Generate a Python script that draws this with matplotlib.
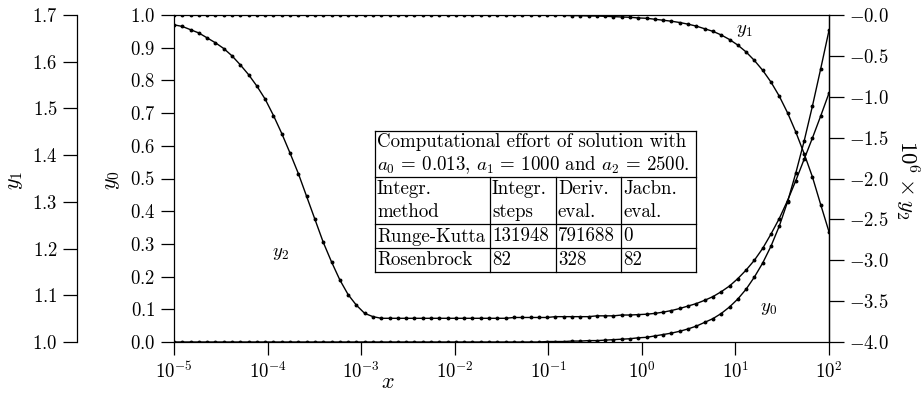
import numpy as np
import matplotlib
matplotlib.use("Agg")
import matplotlib.pyplot as plt
from matplotlib.ticker import NullLocator
from matplotlib.lines import Line2D

# sample grid of the integration output (log spaced, 80 points)
x = np.logspace(-5, 2, 80)

y0 = [1.000, 1.000, 1.000, 1.000, 1.000, 1.000, 1.000, 1.000, 1.000, 1.000,
      1.000, 1.000, 1.000, 1.000, 1.000, 1.000, 1.000, 1.000, 1.000, 1.000,
      1.000, 1.000, 1.000, 1.000, 1.000, 1.000, 1.000, 1.000, 1.000, 1.000,
      1.000, 1.000, 1.000, 1.000, 1.000, 1.000, 1.000, 1.000, 1.000, 1.000,
      1.000, 1.000, 1.000, 1.000, 1.000, 0.999, 0.999, 0.999, 0.998, 0.998,
      0.997, 0.997, 0.996, 0.995, 0.994, 0.993, 0.991, 0.990, 0.987, 0.984,
      0.981, 0.977, 0.972, 0.966, 0.958, 0.950, 0.939, 0.925, 0.908, 0.887,
      0.861, 0.831, 0.795, 0.752, 0.701, 0.642, 0.576, 0.505, 0.420, 0.337]

y1 = [1.000, 1.000, 1.000, 1.000, 1.000, 1.000, 1.000, 1.000, 1.000, 1.000,
      1.000, 1.000, 1.000, 1.000, 1.000, 1.000, 1.000, 1.000, 1.000, 1.000,
      1.000, 1.000, 1.000, 1.000, 1.000, 1.000, 1.000, 1.000, 1.000, 1.000,
      1.000, 1.000, 1.000, 1.000, 1.000, 1.000, 1.000, 1.000, 1.000, 1.000,
      1.000, 1.000, 1.000, 1.000, 1.000, 1.001, 1.001, 1.001, 1.002, 1.002,
      1.003, 1.003, 1.004, 1.005, 1.006, 1.007, 1.009, 1.010, 1.013, 1.016,
      1.019, 1.023, 1.028, 1.034, 1.042, 1.050, 1.061, 1.075, 1.092, 1.113,
      1.139, 1.169, 1.205, 1.248, 1.300, 1.362, 1.430, 1.505, 1.585, 1.667]

# 10^6 * y2
y2 = [-0.12, -0.14, -0.18, -0.22, -0.28, -0.34, -0.41, -0.50, -0.61, -0.73,
      -0.87, -1.03, -1.23, -1.45, -1.69, -1.94, -2.22, -2.50, -2.78, -3.02,
      -3.24, -3.42, -3.55, -3.65, -3.69, -3.71, -3.71, -3.71, -3.71, -3.71,
      -3.71, -3.71, -3.71, -3.71, -3.71, -3.71, -3.71, -3.71, -3.71, -3.71,
      -3.71, -3.70, -3.70, -3.70, -3.70, -3.70, -3.69, -3.69, -3.69, -3.69,
      -3.69, -3.68, -3.68, -3.68, -3.67, -3.67, -3.665, -3.66, -3.65, -3.635,
      -3.615, -3.59, -3.56, -3.53, -3.49, -3.445, -3.385, -3.315, -3.225, -3.12,
      -3.00, -2.855, -2.68, -2.49, -2.27, -2.025, -1.765, -1.505, -1.235, -0.955]

xticks = [1e-5, 1e-4, 1e-3, 1e-2, 1e-1, 1e0, 1e1, 1e2]
xtick_labels = [r"$10^{-5}$", r"$10^{-4}$", r"$10^{-3}$", r"$10^{-2}$",
                r"$10^{-1}$", r"$10^{0}$", r"$10^{1}$", r"$10^{2}$"]
y0_ticks = [0.0, 0.1, 0.2, 0.3, 0.4, 0.5, 0.6, 0.7, 0.8, 0.9, 1.0]
y1_ticks = [1.0, 1.1, 1.2, 1.3, 1.4, 1.5, 1.6, 1.7]
y2_ticks = [-4.0, -3.5, -3.0, -2.5, -2.0, -1.5, -1.0, -0.5, 0.0]
y2_labels = [r"$-4.0$", r"$-3.5$", r"$-3.0$", r"$-2.5$", r"$-2.0$",
             r"$-1.5$", r"$-1.0$", r"$-0.5$", r"$-0.0$"]

table_title = ["Computational effort of solution with",
               r"$a_0\,=\,0.013$, $a_1\,=\,1000$ and $a_2\,=\,2500$."]
table_head = [("Integr.", "method"), ("Integr.", "steps"),
              ("Deriv.", "eval."), ("Jacbn.", "eval.")]
table_rows = [("Runge-Kutta", "131948", "791688", "0"),
              ("Rosenbrock", "82", "328", "82")]

plt.rcParams["font.family"] = "serif"
plt.rcParams["font.serif"] = ["cmr10"]
plt.rcParams["mathtext.fontset"] = "cm"
plt.rcParams["axes.unicode_minus"] = False
plt.rcParams["axes.linewidth"] = 0.9

W, H = 924, 395
def fx(px):
    return px / W
def fy(py):
    return 1 - py / H

fig = plt.figure(figsize=(W / 100, H / 100), dpi=100)
ax = fig.add_axes([fx(174), fy(342), 655 / W, 327 / H])
ax.set_xscale("log")
ax.set_xlim(1e-5, 1e2)
ax.set_ylim(0, 1)
ax.plot(x, y0, "k-", lw=1.0, marker="o", ms=1.8)
ax.set_xticks(xticks)
ax.set_xticklabels(xtick_labels)
ax.xaxis.set_minor_locator(NullLocator())
ax.set_yticks(y0_ticks)
ax.set_yticklabels([r"$%.1f$" % v for v in y0_ticks])
ax.tick_params(direction="out", length=9.5, width=0.9, labelsize=13.5, pad=4)

par1 = ax.twinx()
par1.spines["left"].set_position(("outward", 97 * 0.72))
par1.spines["left"].set_visible(True)
for s in ["right", "top", "bottom"]:
    par1.spines[s].set_visible(False)
par1.yaxis.set_ticks_position("left")
par1.set_ylim(1.0, 1.7)
par1.plot(x, y1, "k-", lw=1.0, marker="o", ms=1.8)
par1.set_yticks(y1_ticks)
par1.set_yticklabels([r"$%.1f$" % v for v in y1_ticks])
par1.tick_params(direction="out", length=10, width=0.9, labelsize=13.5, pad=4)

par2 = ax.twinx()
for s in ["left", "top", "bottom"]:
    par2.spines[s].set_visible(False)
par2.set_ylim(-4.0, 0.0)
par2.plot(x, y2, "k-", lw=1.0, marker="o", ms=1.8)
par2.set_yticks(y2_ticks)
par2.set_yticklabels(y2_labels)
par2.tick_params(direction="out", length=10.5, width=0.9, labelsize=13.5, pad=4)

# curve labels
ax.text(12.6, 0.954, r"$y_1$", fontsize=13.5, ha="center", va="center")
ax.text(22.4, 0.104, r"$y_0$", fontsize=13.5, ha="center", va="center")
ax.text(1.36e-4, 0.272, r"$y_2$", fontsize=13.5, ha="center", va="center")

# axis labels
fig.text(fx(388), fy(382), r"$x$", fontsize=16, ha="center", va="center")
fig.text(fx(112), fy(180), r"$y_0$", fontsize=16, ha="center", va="center", rotation=90)
fig.text(fx(15), fy(180), r"$y_1$", fontsize=16, ha="center", va="center", rotation=90)
fig.text(fx(907), fy(180), r"$10^6 \times y_2$", fontsize=16.5, ha="center", va="center",
         rotation=-90)

# table with the computational effort
tl, tr = 375, 696
rows_y = [130.7, 177.3, 224.3, 248.3, 271.7]
cols_x = [375, 490, 556, 621, 696]
for yy in rows_y:
    fig.add_artist(Line2D([fx(tl), fx(tr)], [fy(yy), fy(yy)], color="k", lw=0.9))
for xx in [tl, tr]:
    fig.add_artist(Line2D([fx(xx), fx(xx)], [fy(rows_y[0]), fy(rows_y[-1])], color="k", lw=0.9))
for xx in cols_x[1:-1]:
    fig.add_artist(Line2D([fx(xx), fx(xx)], [fy(rows_y[1]), fy(rows_y[-1])], color="k", lw=0.9))

tfs = 13.6
fig.text(fx(377), fy(142), table_title[0], fontsize=tfs, ha="left", va="center")
fig.text(fx(377), fy(165), table_title[1], fontsize=tfs, ha="left", va="center")
for j, (a, b) in enumerate(table_head):
    fig.text(fx(cols_x[j] + 2), fy(189), a, fontsize=tfs, ha="left", va="center")
    fig.text(fx(cols_x[j] + 2), fy(212), b, fontsize=tfs, ha="left", va="center")
for r, row in enumerate(table_rows):
    for j, val in enumerate(row):
        fig.text(fx(cols_x[j] + 2), fy(236.5 + 23.5 * r), val, fontsize=tfs,
                 ha="left", va="center")

fig.savefig("out.png", dpi=100)
